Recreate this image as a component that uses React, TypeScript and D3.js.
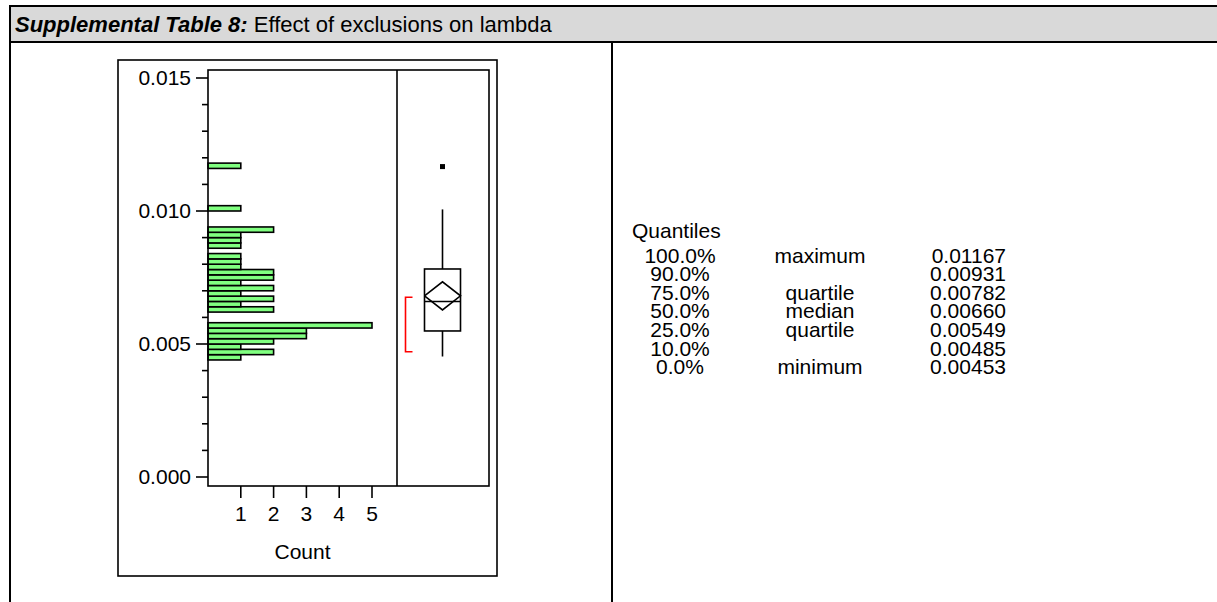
import React from 'react';
import * as d3 from 'd3';

// Histogram of lambda: lower edge of each bin and number of observations in it
const binStarts = [
  0.0044, 0.0046, 0.0048, 0.005, 0.0052, 0.0054, 0.0056,
  0.0062, 0.0064, 0.0066, 0.0068, 0.007, 0.0072, 0.0074, 0.0076, 0.0078, 0.008, 0.0082,
  0.0086, 0.0088, 0.009, 0.0092, 0.01, 0.0116,
];
const binCounts = [
  1, 2, 1, 2, 3, 3, 5,
  2, 1, 2, 1, 2, 1, 2, 2, 1, 1, 1,
  1, 1, 1, 2, 1, 1,
];
const binWidth = 0.0002;

// Axis ticks
const yMajorTicks = [0, 0.005, 0.01, 0.015];
const yMinorTicks = [0.001, 0.002, 0.003, 0.004, 0.006, 0.007, 0.008, 0.009, 0.011, 0.012, 0.013, 0.014];
const countTicks = [1, 2, 3, 4, 5];

// Quantile table
const quantileLevels = ['100.0%', '90.0%', '75.0%', '50.0%', '25.0%', '10.0%', '0.0%'];
const quantileNames = ['maximum', '', 'quartile', 'median', 'quartile', '', 'minimum'];
const quantileValues = [0.01167, 0.00931, 0.00782, 0.0066, 0.00549, 0.00485, 0.00453];

// Box plot summary
const meanValue = 0.00681;
const meanCI = [0.00628, 0.00734];
const whiskerEnds = [0.00453, 0.01006];
const outliers = [0.01167];
const shortestHalf = [0.00471, 0.00676];

const FONT = 'Arial, "Liberation Sans", Helvetica, sans-serif';

export default function App() {
  const W = 1217;
  const H = 602;

  // Panel geometry
  const frame = { x0: 118, x1: 497, y0: 60, y1: 576 };
  const hist = { x0: 208, x1: 397, y0: 70, y1: 486 };
  const boxPanelRight = 489;

  const y = d3.scaleLinear().domain([0, 0.015]).range([477, 78]);
  const x = d3.scaleLinear().domain([0, 5]).range([hist.x0, hist.x0 + 5 * 32.8]);

  const q3 = quantileValues[2];
  const med = quantileValues[3];
  const q1 = quantileValues[4];
  const bx = (hist.x1 + boxPanelRight) / 2 - 0.5;
  const bhw = 18;

  const diamond = d3.line()([
    [bx - bhw, y(meanValue)],
    [bx, y(meanCI[1])],
    [bx + bhw, y(meanValue)],
    [bx, y(meanCI[0])],
    [bx - bhw, y(meanValue)],
  ]) as string;

  const tableLeft = 10;
  const divider = 612;
  const headerTop = 6;
  const headerBottom = 42;

  const qRowY = (i: number) => 262.5 + i * 18.6;

  return (
    <svg
      width={W}
      height={H}
      viewBox={`0 0 ${W} ${H}`}
      style={{ position: 'absolute', left: 0, top: 0, background: '#fff' }}
      fontFamily={FONT}
    >
      {/* table header */}
      <rect x={tableLeft} y={headerTop} width={W - tableLeft} height={headerBottom - headerTop} fill="#d9d9d9" />
      <line x1={tableLeft - 1} x2={W} y1={headerTop} y2={headerTop} stroke="#000" strokeWidth={2} />
      <line x1={tableLeft} x2={W} y1={headerBottom} y2={headerBottom} stroke="#000" strokeWidth={2} />
      <line x1={tableLeft} x2={tableLeft} y1={headerTop} y2={H} stroke="#000" strokeWidth={2} />
      <line x1={divider} x2={divider} y1={headerBottom} y2={H} stroke="#000" strokeWidth={2} />
      <text x={15} y={32} fontSize={22} fill="#000">
        <tspan fontWeight="bold" fontStyle="italic">Supplemental Table 8:</tspan>
        <tspan> Effect of exclusions on lambda</tspan>
      </text>

      {/* outer frame */}
      <rect x={frame.x0} y={frame.y0} width={frame.x1 - frame.x0} height={frame.y1 - frame.y0} fill="none" stroke="#000" strokeWidth={1.6} />

      {/* histogram bars */}
      {binStarts.map((s, i) => (
        <rect
          key={i}
          x={x(0)}
          y={y(s + binWidth)}
          width={x(binCounts[i]) - x(0)}
          height={y(s) - y(s + binWidth)}
          fill="#80ff80"
          stroke="#000"
          strokeWidth={1.6}
        />
      ))}

      {/* panels */}
      <rect x={hist.x0} y={hist.y0} width={boxPanelRight - hist.x0} height={hist.y1 - hist.y0} fill="none" stroke="#000" strokeWidth={1.6} />
      <line x1={hist.x1} x2={hist.x1} y1={hist.y0} y2={hist.y1} stroke="#000" strokeWidth={1.6} />

      {/* y axis */}
      {yMajorTicks.map((t) => (
        <g key={t}>
          <line x1={hist.x0 - 12} x2={hist.x0} y1={y(t)} y2={y(t)} stroke="#000" strokeWidth={1.6} />
          <text x={hist.x0 - 17} y={y(t)} dy="0.35em" textAnchor="end" fontSize={21}>
            {d3.format('.3f')(t)}
          </text>
        </g>
      ))}
      {yMinorTicks.map((t) => (
        <line key={t} x1={hist.x0 - 6} x2={hist.x0} y1={y(t)} y2={y(t)} stroke="#000" strokeWidth={1.6} />
      ))}

      {/* count axis */}
      {countTicks.map((c) => (
        <g key={c}>
          <line x1={x(c)} x2={x(c)} y1={hist.y1} y2={hist.y1 + 12} stroke="#000" strokeWidth={1.6} />
          <text x={x(c)} y={521} textAnchor="middle" fontSize={21}>
            {c}
          </text>
        </g>
      ))}
      <text x={(hist.x0 + hist.x1) / 2} y={559} textAnchor="middle" fontSize={21}>
        Count
      </text>

      {/* outlier box plot */}
      <line x1={bx} x2={bx} y1={y(whiskerEnds[0])} y2={y(q1)} stroke="#000" strokeWidth={1.6} />
      <line x1={bx} x2={bx} y1={y(q3)} y2={y(whiskerEnds[1])} stroke="#000" strokeWidth={1.6} />
      <rect x={bx - bhw} y={y(q3)} width={bhw * 2} height={y(q1) - y(q3)} fill="none" stroke="#000" strokeWidth={1.6} />
      <line x1={bx - bhw} x2={bx + bhw} y1={y(med)} y2={y(med)} stroke="#000" strokeWidth={1.6} />
      <path d={diamond} fill="none" stroke="#000" strokeWidth={1.6} />
      {outliers.map((o, i) => (
        <rect key={i} x={bx - 2.5} y={y(o) - 2.5} width={5} height={5} fill="#000" />
      ))}
      <path
        d={`M${bx - 30},${y(shortestHalf[1])}H${bx - 37}V${y(shortestHalf[0])}H${bx - 30}`}
        fill="none"
        stroke="#ff0000"
        strokeWidth={1.6}
      />

      {/* quantiles */}
      <text x={632} y={238} fontSize={21}>
        Quantiles
      </text>
      {quantileLevels.map((lvl, i) => (
        <g key={lvl} fontSize={21}>
          <text x={680} y={qRowY(i)} textAnchor="middle">
            {lvl}
          </text>
          <text x={820} y={qRowY(i)} textAnchor="middle">
            {quantileNames[i]}
          </text>
          <text x={1006} y={qRowY(i)} textAnchor="end">
            {d3.format('.5f')(quantileValues[i])}
          </text>
        </g>
      ))}
    </svg>
  );
}
